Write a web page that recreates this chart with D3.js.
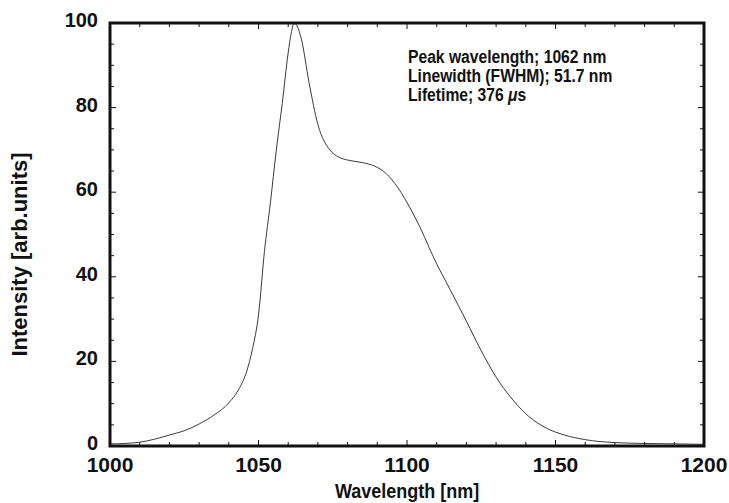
<!DOCTYPE html>
<html>
<head>
<meta charset="utf-8">
<script src="https://cdn.jsdelivr.net/npm/d3@7"></script>
<style>
  body { margin: 0; background: #fff; }
  text { font-family: "Liberation Sans", Arial, sans-serif; font-weight: bold; fill: #111; }
</style>
</head>
<body>
<div id="chart"></div>
<script>
// spectrum
const wavelength = [1000, 1005, 1010, 1015, 1020, 1025, 1030, 1035, 1040, 1043, 1046, 1048, 1050, 1052, 1054, 1056, 1058, 1060, 1061, 1062, 1063, 1064.5, 1067, 1070, 1074, 1077, 1080, 1085, 1089, 1093, 1097, 1101, 1105, 1109, 1114.5, 1120, 1125, 1130, 1136, 1141, 1147, 1153, 1160, 1170, 1180, 1190, 1200];
const intensity = [0.5, 0.6, 0.9, 1.6, 2.6, 3.6, 5.2, 7.3, 10.2, 13, 17.6, 23, 31, 46, 57.5, 70, 81, 93, 97.5, 100, 99.3, 96, 86, 76, 70, 68.3, 67.6, 67, 66.2, 64.4, 61, 56.3, 50.8, 44.5, 37, 29.5, 22.5, 16.3, 10.6, 7, 4.2, 2.6, 1.5, 0.8, 0.6, 0.5, 0.4];

const xTicks = [1000, 1050, 1100, 1150, 1200];
const yTicks = [0, 20, 40, 60, 80, 100];
const notes = ["Peak wavelength; 1062 nm", "Linewidth (FWHM); 51.7 nm"];

const margin = { top: 23, right: 25, bottom: 57, left: 110 };
const width = 729 - margin.left - margin.right;
const height = 503 - margin.top - margin.bottom;

const svg = d3.select("#chart")
  .append("svg")
  .attr("width", 729)
  .attr("height", 503)
  .append("g")
  .attr("transform", `translate(${margin.left},${margin.top})`);

const x = d3.scaleLinear().domain([1000, 1200]).range([0, width]);
const y = d3.scaleLinear().domain([0, 100]).range([height, 0]);

const data = wavelength.map((w, i) => ({ w, v: intensity[i] }));

// minor ticks inward on all four sides
const xMinor = d3.range(1000, 1201, 10);
const yMinor = d3.range(0, 101, 5);

const tickG = svg.append("g").attr("stroke", "#111").attr("stroke-width", 1);
xMinor.forEach(t => {
  const len = t % 50 === 0 ? 6 : 4;
  tickG.append("line").attr("x1", x(t)).attr("x2", x(t)).attr("y1", height).attr("y2", height - len);
  tickG.append("line").attr("x1", x(t)).attr("x2", x(t)).attr("y1", 0).attr("y2", len);
});
yMinor.forEach(t => {
  const len = t % 20 === 0 ? 6 : 4;
  tickG.append("line").attr("x1", 0).attr("x2", len).attr("y1", y(t)).attr("y2", y(t));
  tickG.append("line").attr("x1", width).attr("x2", width - len).attr("y1", y(t)).attr("y2", y(t));
});

// tick labels
svg.append("g")
  .selectAll("text")
  .data(xTicks)
  .join("text")
  .attr("x", d => x(d))
  .attr("y", height + 26)
  .attr("text-anchor", "middle")
  .style("font-size", "21px")
  .text(d => d);

svg.append("g")
  .selectAll("text")
  .data(yTicks)
  .join("text")
  .attr("x", -12)
  .attr("y", d => y(d) + 4)
  .attr("text-anchor", "end")
  .style("font-size", "20px")
  .text(d => d);

// spectrum line
const line = d3.line()
  .x(d => x(d.w))
  .y(d => y(d.v))
  .curve(d3.curveMonotoneX);

svg.append("path")
  .datum(data)
  .attr("fill", "none")
  .attr("stroke", "#3a3a3a")
  .attr("stroke-width", 1)
  .attr("d", line);

// frame
svg.append("rect")
  .attr("width", width)
  .attr("height", height)
  .attr("fill", "none")
  .attr("stroke", "#111")
  .attr("stroke-width", 3);

// axis titles (the original face is a condensed one)
svg.append("text")
  .attr("transform", `translate(${width / 2},${height + 52}) scale(0.9,1)`)
  .attr("text-anchor", "middle")
  .style("font-size", "20px")
  .text("Wavelength [nm]");

svg.append("text")
  .attr("transform", `translate(${-83},${height / 2 + 20}) rotate(-90)`)
  .attr("text-anchor", "middle")
  .style("font-size", "22px")
  .text("Intensity [arb.units]");

// annotation
const note = svg.append("g").attr("transform", "translate(298,40) scale(0.87,1)");
notes.forEach((t, i) => {
  note.append("text").attr("y", i * 19).style("font-size", "18px").text(t);
});
const life = note.append("text").attr("y", 38).style("font-size", "18px");
life.append("tspan").text("Lifetime; 376 ");
life.append("tspan").style("font-style", "italic").text("\u03bc");
life.append("tspan").text("s");
</script>
</body>
</html>
